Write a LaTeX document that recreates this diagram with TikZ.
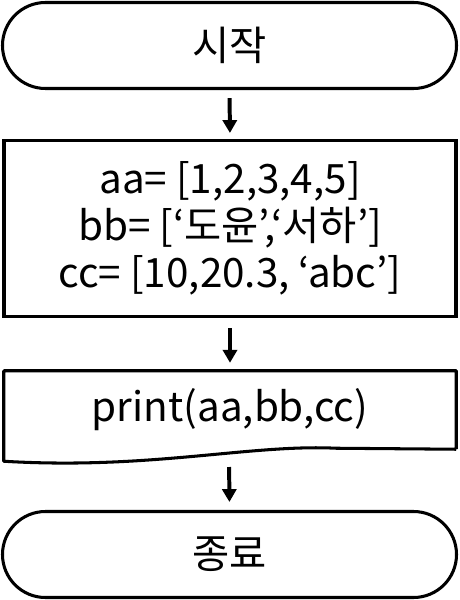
\documentclass[tikz,border=0pt]{standalone}
\usepackage{fontspec}
\setmainfont{Noto Sans CJK KR}
\usetikzlibrary{shapes.misc,arrows.meta}

\tikzset{
  term/.style={rounded rectangle, draw, line width=2.6pt, minimum width=13.62cm, minimum height=2.58cm, inner sep=0pt},
  proc/.style={rectangle, draw, line width=2.6pt, minimum width=13.56cm, minimum height=5.28cm, align=center, inner sep=0pt},
  docbox/.style={rectangle, minimum width=13.56cm, minimum height=2.34cm, inner sep=0pt},
  arr/.style={line width=3.4pt, -{Triangle[length=11pt,width=12pt]}},
  big/.style={font=\fontsize{34.5}{40}\selectfont}
}

\begin{document}
\begin{tikzpicture}[x=0.03cm,y=-0.03cm]

\useasboundingbox (0,0) rectangle (460,600) ;

%start and end
\node [term,big] (start) at (229.5,45.5) {시작} ;
\node [term,big] (stop) at (229.5,554.5) {종료} ;

%lists
\node [proc,big] (init) at (230,228.5) {aa= [1,2,3,4,5]\\bb= [‘도윤’,‘서하’]\\cc= [10,20.3, ‘abc’]} ;

%print
\node [docbox,big] (out) at (230,410) {print(aa,bb,cc)} ;
\draw [line width=2.6pt,line join=round] (out.south east) -- (out.north east) -- (out.north west) -- ([yshift=-0.36cm]out.south west)
  .. controls (150,470) and (250,444) .. ([xshift=-3.6cm,yshift=0.03cm]out.south east) -- (out.south east) ;
\coordinate (outb) at (229,453) ;

%arrows
\draw [arr,shorten <=0.24cm,shorten >=0.18cm] (start.south) -- (init.north) ;
\draw [arr,shorten <=0.3cm,shorten >=0.24cm] (init.south) -- (out.north) ;
\draw [arr,shorten <=0.42cm,shorten >=0.24cm] (outb) -- (stop.north) ;

\end{tikzpicture}
\end{document}
